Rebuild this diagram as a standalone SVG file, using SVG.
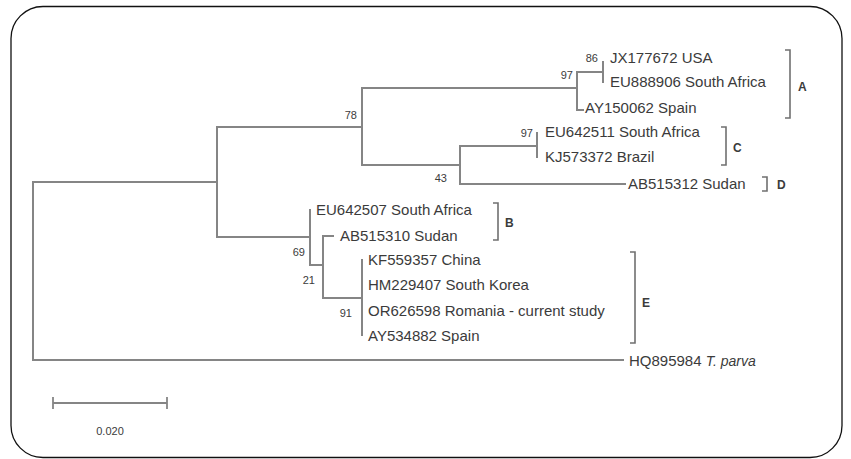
<svg xmlns="http://www.w3.org/2000/svg" width="851" height="459" viewBox="0 0 851 459">
<style>
.br{fill:none;stroke:#858585;stroke-width:2;stroke-linecap:square}
.bk{fill:none;stroke:#707070;stroke-width:1.6}
.lab{font-family:"Liberation Sans",Arial,sans-serif;font-size:15px;fill:#3b3b3b}
.num{font-family:"Liberation Sans",Arial,sans-serif;font-size:11px;fill:#3b3b3b;text-anchor:end}
.cl{font-family:"Liberation Sans",Arial,sans-serif;font-size:12px;font-weight:bold;fill:#3b3b3b}
</style>
<rect x="11" y="6.5" width="831" height="451" rx="32" ry="32" fill="#fff" stroke="#111" stroke-width="1.3"/>
<g id="connectors">
<path class="br" d="M33,182 V360 M33,182 H217 M33,360 H623"/>
<path class="br" d="M217,127 V237 M217,127 H362 M217,237 H310"/>
<path class="br" d="M362,88 V165 M362,88 H577 M362,165 H460"/>
<path class="br" d="M577,72 V110 M577,72 H603 M577,110 H583 M603,62 V82"/>
<path class="br" d="M460,146 V184 M460,146 H537 M460,184 H625 M537,133 V157"/>
<path class="br" d="M310,210 V265 M310,265 H323 M323,236 V298 M323,236 H333 M323,298 H362 M362,260 V335"/>
</g>
<g id="brackets">
<path class="bk" d="M785,50 H790 V118 H785"/>
<path class="bk" d="M721,127 H726 V165 H721"/>
<path class="bk" d="M762,177 H767 V191 H762"/>
<path class="bk" d="M493,203 H498 V240 H493"/>
<path class="bk" d="M630,252 H635 V343 H630"/>
</g>
<g id="leaf-JX177672"><text class="lab" x="610" y="63">JX177672 USA</text></g>
<g id="leaf-EU888906"><text class="lab" x="610" y="87">EU888906 South Africa</text></g>
<g id="leaf-AY150062"><text class="lab" x="585" y="113">AY150062 Spain</text></g>
<g id="leaf-EU642511"><text class="lab" x="545" y="137">EU642511 South Africa</text></g>
<g id="leaf-KJ573372"><text class="lab" x="545" y="162">KJ573372 Brazil</text></g>
<g id="leaf-AB515312"><text class="lab" x="628" y="189">AB515312 Sudan</text></g>
<g id="leaf-EU642507"><text class="lab" x="316" y="215">EU642507 South Africa</text></g>
<g id="leaf-AB515310"><text class="lab" x="340" y="241">AB515310 Sudan</text></g>
<g id="leaf-KF559357"><text class="lab" x="368" y="265">KF559357 China</text></g>
<g id="leaf-HM229407"><text class="lab" x="368" y="290">HM229407 South Korea</text></g>
<g id="leaf-OR626598"><text class="lab" x="368" y="316">OR626598 Romania - current study</text></g>
<g id="leaf-AY534882"><text class="lab" x="368" y="341">AY534882 Spain</text></g>
<g id="leaf-HQ895984"><text class="lab" x="629" y="366">HQ895984 <tspan font-style="italic" font-size="14">T. parva</tspan></text></g>
<g id="bootstrap">
<text class="num" x="598" y="62">86</text>
<text class="num" x="573" y="79">97</text>
<text class="num" x="357" y="119">78</text>
<text class="num" x="533" y="137">97</text>
<text class="num" x="447" y="182">43</text>
<text class="num" x="305" y="256">69</text>
<text class="num" x="315" y="284">21</text>
<text class="num" x="352" y="317">91</text>
</g>
<g id="clade-labels">
<text class="cl" x="798" y="91">A</text>
<text class="cl" x="733" y="152">C</text>
<text class="cl" x="777" y="189">D</text>
<text class="cl" x="505" y="227">B</text>
<text class="cl" x="642" y="307">E</text>
</g>
<g id="scale">
<path class="br" d="M53,403 H167 M53,398 V408 M167,398 V408" style="stroke-width:1.8"/>
<text class="num" x="110" y="435" style="text-anchor:middle;font-size:11px">0.020</text>
</g>
</svg>
